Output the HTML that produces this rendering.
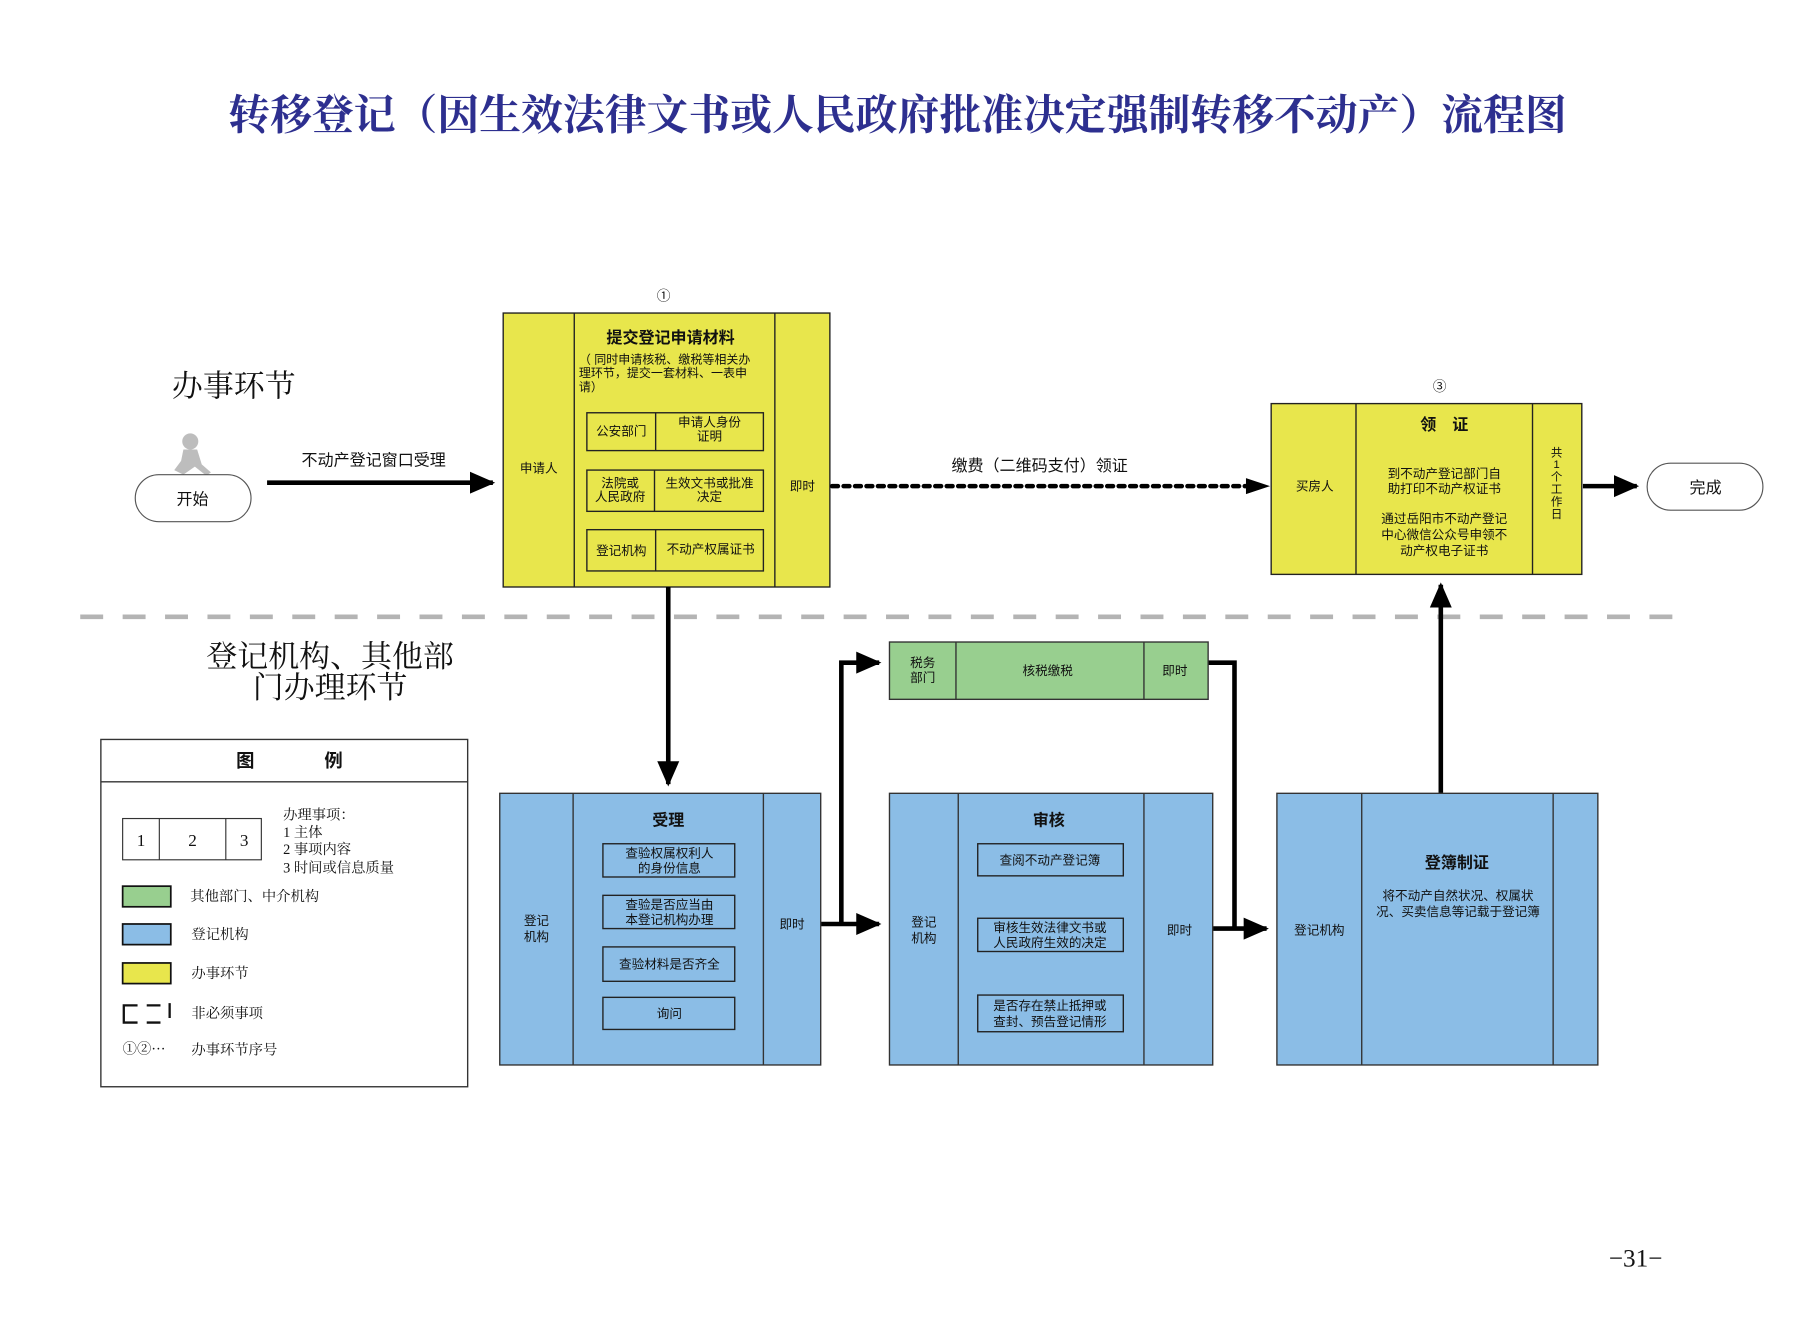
<!DOCTYPE html>
<html><head><meta charset="utf-8"><style>
html,body{margin:0;padding:0;background:#fff;}
svg{display:block;}
text{font-family:"Liberation Sans","Noto Sans CJK SC",sans-serif;fill:#111;}
.s{font-family:"Liberation Serif","Noto Serif CJK SC",serif;}
</style></head><body>
<svg width="1795" height="1323" viewBox="0 0 1566 1154" xmlns="http://www.w3.org/2000/svg">
<defs>
<marker id="ah" markerWidth="6" markerHeight="6" refX="5" refY="3" orient="auto" markerUnits="strokeWidth"><path d="M0,0.6 L5.5,3 L0,5.4 z" fill="#000"/></marker>
</defs>
<text x="783" y="113" text-anchor="middle" font-size="36.5" font-weight="bold" class="s" style="fill:#2d2f8f">转移登记（因生效法律文书或人民政府批准决定强制转移不动产）流程图</text>

<text x="150" y="346" font-size="27" class="s">办事环节</text>
<g fill="#bdbdbd"><circle cx="166" cy="385" r="7"/><path d="M160,392 L172,392 L176,405 L184,412 L180,415 L170,407 L160,414 L152,410 L158,402 z"/></g>
<rect x="118" y="414" width="101" height="41" rx="20.5" fill="#fff" stroke="#555" stroke-width="1"/>
<text x="168" y="440" font-size="14" text-anchor="middle">开始</text>
<line x1="233" y1="421" x2="430" y2="421" stroke="#000" stroke-width="4" marker-end="url(#ah)"/>
<text x="326" y="406" font-size="14" text-anchor="middle">不动产登记窗口受理</text>

<text x="579" y="262" font-size="12" text-anchor="middle">①</text>
<rect x="439" y="273" width="285" height="239" fill="#e8e64c" stroke="#222" stroke-width="1.2"/>
<line x1="501" y1="273" x2="501" y2="512" stroke="#222" stroke-width="1.2"/>
<line x1="676" y1="273" x2="676" y2="512" stroke="#222" stroke-width="1.2"/>
<text x="585" y="299" font-size="14" font-weight="bold" text-anchor="middle">提交登记申请材料</text>
<text x="505" y="317" font-size="10.5">（ 同时申请核税、缴税等相关办</text>
<text x="505" y="329" font-size="10.5">理环节，提交一套材料、一表申</text>
<text x="505" y="341" font-size="10.5">请）</text>
<g fill="none" stroke="#222" stroke-width="1.2">
<rect x="512" y="360" width="154" height="33"/><line x1="572" y1="360" x2="572" y2="393"/>
<rect x="512" y="410" width="154" height="36"/><line x1="571" y1="410" x2="571" y2="446"/>
<rect x="512" y="462" width="154" height="36"/><line x1="572" y1="462" x2="572" y2="498"/>
</g>
<g font-size="11" text-anchor="middle">
<text x="542" y="380">公安部门</text>
<text x="619" y="372">申请人身份</text><text x="619" y="384">证明</text>
<text x="541" y="425">法院或</text><text x="541" y="437">人民政府</text>
<text x="619" y="425">生效文书或批准</text><text x="619" y="437">决定</text>
<text x="542" y="484">登记机构</text>
<text x="620" y="483">不动产权属证书</text>
<text x="470" y="412">申请人</text>
<text x="700" y="428">即时</text>
</g>

<line x1="726" y1="424" x2="1100" y2="424" stroke="#000" stroke-width="4" stroke-dasharray="5,5" stroke-linecap="round"/>
<path d="M1087,417 L1108,424 L1087,431 z" fill="#000"/>
<text x="907" y="411" font-size="14" text-anchor="middle">缴费（二维码支付）领证</text>

<text x="1256" y="341" font-size="12" text-anchor="middle">③</text>
<rect x="1109" y="352" width="271" height="149" fill="#e8e64c" stroke="#222" stroke-width="1.2"/>
<line x1="1183" y1="352" x2="1183" y2="501" stroke="#222" stroke-width="1.2"/>
<line x1="1337" y1="352" x2="1337" y2="501" stroke="#222" stroke-width="1.2"/>
<text x="1260" y="375" font-size="14" font-weight="bold" text-anchor="middle">领　证</text>
<g font-size="11" text-anchor="middle">
<text x="1260" y="417">到不动产登记部门自</text>
<text x="1260" y="430">助打印不动产权证书</text>
<text x="1260" y="456">通过岳阳市不动产登记</text>
<text x="1260" y="470">中心微信公众号申领不</text>
<text x="1260" y="484">动产权电子证书</text>
<text x="1147" y="428">买房人</text>
<text x="1358" y="398" font-size="10">共</text>
<text x="1358" y="408" font-size="10">1</text>
<text x="1358" y="419" font-size="10">个</text>
<text x="1358" y="430" font-size="10">工</text>
<text x="1358" y="441" font-size="10">作</text>
<text x="1358" y="452" font-size="10">日</text>
</g>
<line x1="1381" y1="424" x2="1428" y2="424" stroke="#000" stroke-width="4" marker-end="url(#ah)"/>
<rect x="1437" y="404" width="101" height="41" rx="20.5" fill="#fff" stroke="#555" stroke-width="1"/>
<text x="1488" y="430" font-size="14" text-anchor="middle">完成</text>

<line x1="70" y1="538" x2="1470" y2="538" stroke="#b4b4b4" stroke-width="4" stroke-dasharray="20,17"/>

<text x="288" y="582" font-size="27" text-anchor="middle" class="s">登记机构、其他部</text>
<text x="288" y="609" font-size="27" text-anchor="middle" class="s">门办理环节</text>

<rect x="88" y="645" width="320" height="303" fill="#fff" stroke="#333" stroke-width="1.2"/>
<line x1="88" y1="682" x2="408" y2="682" stroke="#333" stroke-width="1.2"/>
<text x="206" y="669" font-size="16" font-weight="bold">图</text>
<text x="283" y="669" font-size="16" font-weight="bold">例</text>
<g fill="none" stroke="#333" stroke-width="1"><rect x="107" y="714" width="121" height="36"/><line x1="139" y1="714" x2="139" y2="750"/><line x1="197" y1="714" x2="197" y2="750"/></g>
<g class="s" font-size="15" text-anchor="middle"><text class="s" x="123" y="738">1</text><text class="s" x="168" y="738">2</text><text class="s" x="213" y="738">3</text></g>
<g font-size="12.5"><text class="s" x="247" y="715">办理事项：</text><text class="s" x="247" y="730">1 主体</text><text class="s" x="247" y="745">2 事项内容</text><text class="s" x="247" y="761">3 时间或信息质量</text>
<text class="s" x="166" y="786">其他部门、中介机构</text>
<text class="s" x="167" y="819">登记机构</text>
<text class="s" x="167" y="853">办事环节</text>
<text class="s" x="167" y="888">非必须事项</text>
<text class="s" x="107" y="919">①②···</text>
<text class="s" x="167" y="920">办事环节序号</text></g>
<rect x="107" y="773" width="42" height="18" fill="#98cf8f" stroke="#111" stroke-width="1.5"/>
<rect x="107" y="806" width="42" height="18" fill="#8bbde6" stroke="#111" stroke-width="1.5"/>
<rect x="107" y="840" width="42" height="18" fill="#e8e64c" stroke="#111" stroke-width="1.5"/>
<path d="M120,877 H108 V892 H120 M128,877 H140 M128,892 H140 M148,875 V888" fill="none" stroke="#111" stroke-width="2"/>

<line x1="583" y1="512" x2="583" y2="684" stroke="#000" stroke-width="4" marker-end="url(#ah)"/>
<line x1="716" y1="806" x2="767" y2="806" stroke="#000" stroke-width="4" marker-end="url(#ah)"/>
<polyline points="734,806 734,578 767,578" fill="none" stroke="#000" stroke-width="4" marker-end="url(#ah)"/>
<polyline points="1054,578 1077,578 1077,810" fill="none" stroke="#000" stroke-width="4"/>
<line x1="1058" y1="810" x2="1105" y2="810" stroke="#000" stroke-width="4" marker-end="url(#ah)"/>
<line x1="1257" y1="692" x2="1257" y2="510" stroke="#000" stroke-width="4" marker-end="url(#ah)"/>

<rect x="776" y="560" width="278" height="50" fill="#98cf8f" stroke="#333" stroke-width="1.2"/>
<line x1="834" y1="560" x2="834" y2="610" stroke="#333" stroke-width="1.2"/>
<line x1="998" y1="560" x2="998" y2="610" stroke="#333" stroke-width="1.2"/>
<g font-size="11" text-anchor="middle"><text x="805" y="582">税务</text><text x="805" y="595">部门</text><text x="914" y="589">核税缴税</text><text x="1025" y="589">即时</text></g>

<rect x="436" y="692" width="280" height="237" fill="#8bbde6" stroke="#333" stroke-width="1.2"/>
<line x1="500" y1="692" x2="500" y2="929" stroke="#333" stroke-width="1.2"/>
<line x1="666" y1="692" x2="666" y2="929" stroke="#333" stroke-width="1.2"/>
<text x="583" y="720" font-size="14" font-weight="bold" text-anchor="middle">受理</text>
<g fill="none" stroke="#222" stroke-width="1.2"><rect x="526" y="736" width="115" height="29"/><rect x="526" y="781" width="115" height="29"/><rect x="526" y="826" width="115" height="30"/><rect x="526" y="870" width="115" height="28"/></g>
<g font-size="11" text-anchor="middle">
<text x="584" y="748">查验权属权利人</text><text x="584" y="761">的身份信息</text>
<text x="584" y="793">查验是否应当由</text><text x="584" y="806">本登记机构办理</text>
<text x="584" y="845">查验材料是否齐全</text>
<text x="584" y="888">询问</text>
<text x="468" y="807">登记</text><text x="468" y="821">机构</text>
<text x="691" y="810">即时</text>
</g>

<rect x="776" y="692" width="282" height="237" fill="#8bbde6" stroke="#333" stroke-width="1.2"/>
<line x1="836" y1="692" x2="836" y2="929" stroke="#333" stroke-width="1.2"/>
<line x1="998" y1="692" x2="998" y2="929" stroke="#333" stroke-width="1.2"/>
<text x="915" y="720" font-size="14" font-weight="bold" text-anchor="middle">审核</text>
<g fill="none" stroke="#222" stroke-width="1.2"><rect x="853" y="736" width="127" height="28"/><rect x="853" y="801" width="127" height="29"/><rect x="853" y="868" width="127" height="32"/></g>
<g font-size="11" text-anchor="middle">
<text x="916" y="754">查阅不动产登记簿</text>
<text x="916" y="813">审核生效法律文书或</text><text x="916" y="826">人民政府生效的决定</text>
<text x="916" y="881">是否存在禁止抵押或</text><text x="916" y="895">查封、预告登记情形</text>
<text x="806" y="808">登记</text><text x="806" y="822">机构</text>
<text x="1029" y="815">即时</text>
</g>

<rect x="1114" y="692" width="280" height="237" fill="#8bbde6" stroke="#333" stroke-width="1.2"/>
<line x1="1188" y1="692" x2="1188" y2="929" stroke="#333" stroke-width="1.2"/>
<line x1="1355" y1="692" x2="1355" y2="929" stroke="#333" stroke-width="1.2"/>
<text x="1271" y="757" font-size="14" font-weight="bold" text-anchor="middle">登簿制证</text>
<g font-size="11" text-anchor="middle">
<text x="1272" y="785">将不动产自然状况、权属状</text><text x="1272" y="799">况、买卖信息等记载于登记簿</text>
<text x="1151" y="815">登记机构</text>
</g>

<text x="1427" y="1105" font-size="22" text-anchor="middle" class="s">−31−</text>
</svg>
</body></html>
